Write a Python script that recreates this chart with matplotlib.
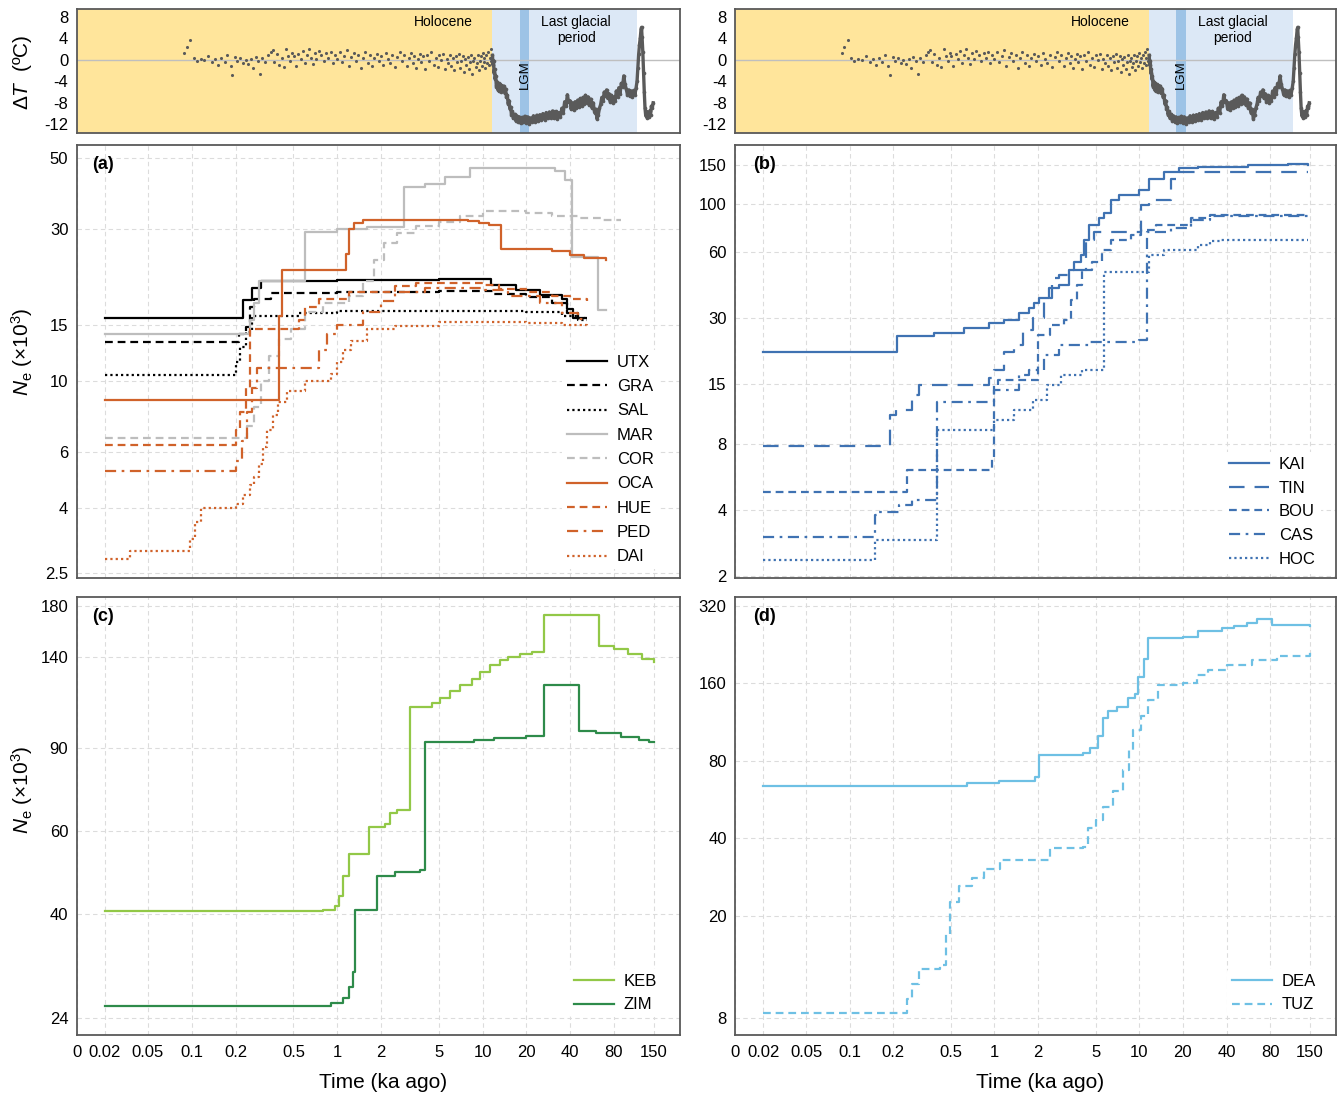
import numpy as np
import matplotlib
matplotlib.use('Agg')
import matplotlib.pyplot as plt
from matplotlib.ticker import FixedLocator, FixedFormatter, NullLocator

plt.rcParams['font.family'] = ['Liberation Sans', 'DejaVu Sans']
plt.rcParams['mathtext.fontset'] = 'custom'
plt.rcParams['mathtext.rm'] = 'Liberation Sans'
plt.rcParams['mathtext.it'] = 'Liberation Sans:italic'

# ---------------- data ----------------
X_TICKS = [0, 0.02, 0.05, 0.1, 0.2, 0.5, 1, 2, 5, 10, 20, 40, 80, 150]
X_LABELS = ['0', '0.02', '0.05', '0.1', '0.2', '0.5', '1', '2', '5', '10', '20', '40', '80', '150']

# temperature record (ka, delta T)
HOL = [(0.088, 1.2), (0.092, 2.3), (0.098, 3.6), (0.103, 0.3), (0.108, -0.2), (0.115, 0.1), (0.122, -0.1),
       (0.13, 0.6), (0.138, -0.4), (0.145, 0.2), (0.152, -1.0), (0.16, 0.3), (0.168, -0.5), (0.176, 0.9),
       (0.185, -1.2), (0.19, -2.8), (0.198, 0.5), (0.205, -0.3), (0.215, 0.4), (0.225, -0.6), (0.235, 0.0),
       (0.245, -0.8), (0.255, 0.2), (0.265, -1.6), (0.275, 0.5), (0.285, -0.2), (0.295, -2.6), (0.305, 0.3),
       (0.32, -0.4), (0.335, 0.8), (0.35, 1.5), (0.36, 1.8), (0.37, -0.5), (0.385, 1.1), (0.4, -0.9),
       (0.415, 0.4), (0.43, -1.4), (0.445, 1.9), (0.46, 0.6), (0.475, -0.2), (0.49, 1.2), (0.505, 0.7),
       (0.52, -1.1), (0.54, 1.0), (0.56, 0.2), (0.58, 1.6), (0.6, -0.6), (0.62, 0.9), (0.64, 1.9), (0.66, 0.4),
       (0.68, -0.8), (0.7, 1.3), (0.72, 0.1), (0.75, 1.7), (0.78, 0.8), (0.81, -0.3), (0.84, 1.2), (0.87, 0.3),
       (0.9, 1.5), (0.93, -0.7), (0.96, 0.9), (1.0, 0.1), (1.04, 1.4), (1.08, -0.5), (1.12, 0.7), (1.16, 1.8),
       (1.2, -1.1), (1.25, 0.5), (1.3, 1.2), (1.35, -0.2), (1.4, 0.9), (1.45, -1.6), (1.5, 0.3), (1.56, 1.5),
       (1.62, -0.6), (1.68, 0.8), (1.74, -1.2), (1.8, 0.4), (1.87, 1.1), (1.94, -0.3), (2.0, 0.6), (2.08, -1.0),
       (2.16, 1.3), (2.24, 0.2), (2.32, -0.7), (2.4, 0.9), (2.5, -1.4), (2.6, 0.5), (2.7, 1.5), (2.8, -0.2),
       (2.9, 0.8), (3.0, -1.1), (3.1, 0.3), (3.2, 1.2), (3.3, -0.6), (3.4, 0.7), (3.5, -1.5), (3.6, 0.1),
       (3.7, 1.0), (3.8, -0.4), (3.9, 0.6), (4.0, -1.8), (4.15, 0.9), (4.3, -0.3), (4.45, 1.4), (4.6, -0.9),
       (4.75, 0.4), (4.9, -1.3), (5.05, 0.8), (5.2, -0.1), (5.35, 1.1), (5.5, -1.7), (5.65, 0.2), (5.8, -0.6),
       (5.95, 0.9), (6.1, -1.2), (6.25, 0.3), (6.4, -2.0), (6.55, 0.6), (6.7, -0.4), (6.85, 1.0), (7.0, -1.5),
       (7.15, -0.2), (7.3, 0.7), (7.45, -2.3), (7.6, 0.1), (7.75, -0.9), (7.9, 0.5), (8.05, -1.8), (8.2, -0.5),
       (8.35, 0.8), (8.5, -2.6), (8.65, -0.3), (8.8, 0.4), (8.95, -1.4), (9.1, -0.7), (9.25, 0.9), (9.4, -1.9),
       (9.55, -0.2), (9.7, 0.6), (9.85, -1.1), (10.0, 1.2), (10.15, -0.4), (10.3, 0.3), (10.45, -1.6),
       (10.6, 0.8), (10.75, -0.6), (10.9, 1.5), (11.05, -0.9), (11.2, 0.4), (11.35, 2.0), (11.5, -0.3), (11.65, 0.9)]

GLA = [(11.7, 0.8), (11.8, -1.0), (11.9, -0.2), (12.0, -2.5), (12.1, -1.8), (12.2, -3.6), (12.3, -3.0),
       (12.45, -5.0), (12.6, -4.1), (12.75, -5.6), (12.9, -4.4), (13.05, -5.9), (13.2, -4.6), (13.4, -6.0),
       (13.6, -4.8), (13.8, -5.5), (14.0, -4.9), (14.2, -6.2), (14.4, -5.4), (14.6, -7.0), (14.8, -6.6),
       (15.0, -8.2), (15.2, -7.6), (15.4, -9.1), (15.6, -8.8), (15.8, -10.2), (16.0, -9.6), (16.3, -10.9),
       (16.6, -10.1), (16.9, -11.3), (17.2, -10.4), (17.5, -11.5), (17.9, -10.6), (18.3, -11.8), (18.7, -10.7),
       (19.1, -11.6), (19.5, -10.5), (19.9, -11.7), (20.4, -10.6), (20.9, -11.9), (21.4, -10.8), (21.9, -11.6),
       (22.4, -10.4), (23.0, -11.5), (23.6, -10.3), (24.2, -11.4), (24.8, -10.2), (25.4, -11.2), (26.0, -10.0),
       (26.7, -11.1), (27.4, -9.8), (28.1, -10.9), (28.8, -9.7), (29.5, -10.8), (30.3, -9.5), (31.1, -10.9),
       (31.9, -9.6), (32.7, -11.0), (33.5, -9.8), (34.3, -10.6), (35.1, -9.0), (35.9, -9.8), (36.7, -7.8),
       (37.5, -8.6), (38.3, -6.5), (39.1, -7.9), (39.9, -7.6), (40.7, -9.2), (41.5, -8.0), (42.4, -9.3),
       (43.3, -7.8), (44.2, -9.0), (45.1, -7.5), (46.0, -8.8), (47.0, -7.2), (48.0, -8.6), (49.0, -7.0),
       (50.0, -8.2), (51.0, -6.6), (52.1, -8.0), (53.2, -6.9), (54.3, -8.4), (55.4, -7.3), (56.5, -8.9),
       (57.7, -8.0), (58.9, -9.8), (60.1, -9.2), (61.3, -11.0), (62.5, -10.2), (63.7, -9.0), (64.9, -8.3),
       (66.1, -7.0), (67.4, -7.6), (68.7, -6.0), (70.0, -6.8), (71.3, -5.6), (72.7, -7.2), (74.1, -6.3),
       (75.5, -7.8), (77.0, -6.6), (78.5, -8.0), (80.0, -6.9), (81.6, -7.6), (83.2, -5.8), (84.8, -6.9),
       (86.5, -5.2), (88.2, -6.3), (90.0, -4.4), (91.8, -5.0), (93.6, -3.0), (95.4, -4.6), (97.3, -5.4),
       (99.2, -6.5), (101.2, -5.6), (103.2, -6.8), (105.2, -5.8), (107.3, -6.9), (109.4, -5.7), (111.6, -6.5),
       (113.8, -5.2), (115.5, -4.0), (117.0, -1.5), (118.5, 1.0), (120.0, 2.8), (121.5, 4.0), (123.0, 5.6),
       (124.0, 6.0), (125.0, 4.2), (126.5, 1.5), (128.0, -2.5), (129.5, -6.0), (131.0, -9.0), (132.5, -10.4),
       (134.0, -9.6), (135.5, -10.8), (137.0, -9.8), (139.0, -10.6), (141.0, -9.5), (143.0, -10.2),
       (145.0, -8.6), (147.0, -9.0), (149.0, -8.0)]

HOLOCENE_END = 11.7
GLACIAL_END = 115
LGM = (18, 21)

# panel (a)  (time ka, Ne x1000), step curves
UTX = [(0.02, 15.8), (0.225, 17.9), (0.26, 19.6), (0.3, 20.5), (1.0, 20.7), (5, 20.8), (11.5, 20.0),
       (17, 19.3), (25, 18.6), (35, 18.0), (38, 16.8), (42, 15.8), (50, 15.8)]
GRA = [(0.02, 13.2), (0.21, 14.0), (0.235, 14.8), (0.25, 17.0), (0.27, 18.0), (0.35, 18.9), (1.0, 19.0),
       (5, 19.1), (12, 18.7), (20, 18.3), (30, 17.5), (38, 16.3), (45, 15.8), (52, 15.8)]
SAL = [(0.02, 10.4), (0.2, 11.5), (0.215, 12.8), (0.235, 14.2), (0.26, 16.0), (0.55, 16.3), (1.0, 16.6),
       (10, 16.6), (20, 16.4), (35, 16.0), (45, 15.5), (52, 15.5)]
MAR = [(0.02, 14.0), (0.25, 15.5), (0.27, 17.5), (0.29, 20.6), (0.6, 29.3), (1.0, 30.0), (1.6, 30.3),
       (2.9, 40.4), (4, 41.5), (5.5, 43.5), (8.2, 46.5), (31.5, 45.5), (37, 42.6), (41, 24.4), (62, 16.7), (71, 16.7)]
COR = [(0.02, 6.6), (0.24, 7.2), (0.27, 8.3), (0.3, 10.0), (0.34, 12.0), (0.4, 13.5), (0.48, 14.5),
       (0.6, 16.5), (0.8, 17.5), (1.2, 18.5), (1.5, 20.5), (1.8, 24), (2.1, 27), (2.6, 29), (3.5, 30.5),
       (5, 31.5), (7, 33), (10, 34), (14, 34.2), (20, 33.5), (30, 33.0), (45, 32.5), (65, 32.0), (90, 32.0)]
OCA = [(0.02, 8.7), (0.40, 16), (0.415, 22.3), (1.15, 25), (1.2, 30), (1.3, 31.3), (1.5, 32), (8, 31.8),
       (9.5, 31.2), (11, 30.8), (13.3, 26.0), (30, 25.5), (40, 24.8), (50, 24.2), (71, 24.0)]
HUE = [(0.02, 6.3), (0.2, 7.0), (0.215, 8.0), (0.235, 9.5), (0.25, 14.5), (0.55, 15.5), (0.6, 17.0),
       (0.75, 18.0), (1.2, 19.0), (2.5, 19.8), (3.5, 20.2), (10, 20.0), (13, 19.4), (20, 19.0), (30, 18.5),
       (40, 18.0), (52, 17.8)]
PED = [(0.02, 5.2), (0.2, 5.6), (0.22, 6.5), (0.24, 8.0), (0.26, 9.5), (0.28, 11.0), (0.75, 12.5),
       (0.85, 14.0), (1.0, 15.0), (1.5, 16.5), (2, 17.8), (2.5, 19), (4, 19.5), (10, 19.3), (15, 18.5),
       (25, 17.5), (35, 16.3), (45, 15.6), (52, 15.6)]
DAI = [(0.02, 2.77), (0.034, 2.92), (0.098, 3.2), (0.105, 3.6), (0.115, 4.0), (0.2, 4.1), (0.225, 4.4),
       (0.25, 4.7), (0.27, 5.0), (0.29, 5.5), (0.31, 6.2), (0.33, 7.0), (0.36, 7.8), (0.39, 8.6), (0.45, 9.3),
       (0.6, 10.0), (0.9, 10.5), (1.0, 11.5), (1.1, 12.5), (1.25, 13.3), (1.6, 14.5), (2.5, 14.9), (5, 15.3),
       (10, 15.3), (20, 15.2), (35, 15.0), (52, 14.8)]

# panel (b)
KAI = [(0.02, 21.0), (0.212, 24.8), (0.385, 25.6), (0.62, 27.0), (0.92, 28.5), (1.17, 29.4), (1.48, 31.6),
       (1.74, 33.3), (1.88, 35.1), (2.03, 37.0), (2.38, 41.1), (2.79, 42.4), (3.27, 49.7), (3.54, 54.0),
       (3.96, 58.1), (4.15, 68.1), (4.49, 79.7), (5.26, 86.0), (5.69, 90.6), (6.4, 103.7), (7.2, 109.5),
       (9.9, 115.2), (11.6, 130), (14.7, 139), (18.7, 145), (25.6, 146.5), (56.6, 150), (106.6, 151), (146, 150)]
TIN = [(0.02, 7.8), (0.19, 10.8), (0.21, 11.4), (0.27, 13.4), (0.3, 14.8), (0.92, 16.0), (1.0, 17.4),
       (1.17, 21.0), (1.37, 22.6), (1.58, 26.4), (1.84, 30), (2.2, 37), (2.5, 45.7), (2.8, 47.1), (3.5, 49.7),
       (4.3, 68.1), (4.9, 74.1), (10.3, 98.8), (11.6, 103.7), (16.6, 130), (18.7, 139), (146, 139)]
BOU = [(0.02, 4.8), (0.25, 6.07), (0.96, 6.9), (1.0, 14.8), (1.05, 15.6), (2.0, 25.1), (2.4, 27.9),
       (3.0, 29.4), (3.4, 36.3), (3.7, 42.4), (4.0, 49.7), (4.7, 54), (5.5, 61.3), (6.4, 68.1), (8.8, 71.8),
       (10.3, 75.7), (13, 79.7), (22.7, 85.9), (31, 88.9), (146, 88.9)]
CAS = [(0.02, 3.0), (0.149, 3.78), (0.16, 3.9), (0.22, 4.2), (0.27, 4.43), (0.40, 12.4), (1.0, 14.1),
       (1.48, 16.5), (1.74, 17.4), (2.2, 20.3), (2.79, 22.6), (4.49, 23.3), (9.9, 23.8), (11.25, 74.1),
       (16.6, 77.3), (22.7, 84), (31, 87.7), (146, 87.7)]
HOC = [(0.02, 2.35), (0.149, 2.9), (0.40, 9.24), (1.0, 10.3), (1.37, 11.4), (1.84, 12.7), (2.3, 14.8),
       (2.9, 16.5), (4.0, 17.4), (5.69, 48.6), (11.6, 58.2), (14.7, 61.3), (25.6, 64.6), (31, 67.4), (36, 68.1),
       (146, 68.1)]

# panel (c)
KEB = [(0.02, 40.5), (0.8, 40.8), (0.97, 41.5), (1.03, 43.5), (1.1, 48), (1.2, 53.5), (1.66, 61.0),
       (2.15, 62), (2.3, 65.5), (2.6, 66.5), (3.15, 110), (4.5, 112), (5.1, 115), (6, 119), (7, 122),
       (8.5, 126), (9.6, 130), (11.3, 135), (13.1, 138), (15, 140), (18.1, 142), (22, 144), (26.3, 172),
       (63, 148), (80, 146), (100, 142), (125, 139), (150, 137)]
ZIM = [(0.02, 25.5), (0.9, 25.8), (1.1, 26.5), (1.2, 28), (1.28, 30), (1.32, 40.8), (1.88, 48), (2.5, 49),
       (3.7, 49.5), (4.05, 92.6), (8.8, 93.5), (12, 94.5), (20, 95.5), (26.3, 122), (46, 97.5), (60, 96.5),
       (90, 95), (120, 93.5), (140, 92.5), (150, 92.5)]

# panel (d)
DEA = [(0.02, 64), (0.65, 65.5), (1.08, 67), (1.89, 69), (2.04, 84), (4.1, 86), (4.6, 90), (5.2, 100),
       (5.6, 117), (6.1, 125), (7, 130), (8.4, 140), (9.3, 145), (9.85, 170), (10.7, 200), (11.5, 240),
       (20, 243), (25.5, 255), (37, 262), (45, 268), (55, 275), (64.5, 285), (75.5, 285), (82, 270), (150, 268)]
TUZ = [(0.02, 8.4), (0.25, 9.5), (0.27, 10.8), (0.3, 12.4), (0.42, 12.9), (0.46, 17), (0.49, 22.7),
       (0.57, 26), (0.7, 28), (0.85, 30.5), (1.1, 32.8), (2.0, 33), (2.4, 36.7), (4.1, 37), (4.45, 44),
       (5.0, 47), (5.6, 53), (6.6, 61), (7.7, 74), (8.5, 88), (9.1, 105), (10.3, 120), (11.5, 138),
       (13.4, 158), (20, 160), (25, 172), (30, 180), (40, 188), (60, 198), (89, 205), (150, 216)]

# ---------------- x scale (0 and 0.02 compressed, log above 0.05) ----------------
L05 = np.log10(0.05)
D1 = 43 / 145.4
D0 = 28.3 / 145.4
X02 = L05 - D1
X0 = X02 - D0


def fwd(t):
    t = np.asarray(t, dtype=float)
    out = np.zeros_like(t)
    big = t >= 0.05
    mid = (t >= 0.02) & ~big
    small = ~(big | mid)
    with np.errstate(all='ignore'):
        out[big] = np.log10(t[big])
        out[mid] = X02 + D1 * (np.log10(t[mid]) - np.log10(0.02)) / np.log10(2.5)
        out[small] = X0 + D0 * t[small] / 0.02
    return out


def inv(x):
    x = np.asarray(x, dtype=float)
    out = np.zeros_like(x)
    big = x >= L05
    mid = (x >= X02) & ~big
    small = ~(big | mid)
    with np.errstate(all='ignore'):
        out[big] = 10 ** x[big]
        out[mid] = 10 ** (np.log10(0.02) + (x[mid] - X02) / D1 * np.log10(2.5))
        out[small] = 0.02 * (x[small] - X0) / D0
    return out


W, H = 1338, 1095
fig = plt.figure(figsize=(W / 100, H / 100), dpi=100)


def rect(l, t, r, b):
    return [l / W, 1 - b / H, (r - l) / W, (b - t) / H]


SPINE = '#595959'
GRID = '#dcdcdc'
FS = 12


def style_x(ax, labels):
    ax.set_xscale('function', functions=(fwd, inv))
    ax.set_xlim(0, 228)
    ax.xaxis.set_major_locator(FixedLocator(X_TICKS))
    ax.xaxis.set_minor_locator(NullLocator())
    ax.xaxis.set_major_formatter(FixedFormatter(X_LABELS if labels else [''] * len(X_TICKS)))
    ax.tick_params(axis='x', length=0, pad=7, labelsize=FS)
    for s in ax.spines.values():
        s.set_color(SPINE)
        s.set_linewidth(1.3)


def style_log_y(ax, lo, hi, ticks):
    ax.set_yscale('log')
    ax.set_ylim(lo, hi)
    ax.yaxis.set_major_locator(FixedLocator(ticks))
    ax.yaxis.set_minor_locator(NullLocator())
    ax.yaxis.set_major_formatter(FixedFormatter([('%g' % v) for v in ticks]))
    ax.tick_params(axis='y', length=0, pad=6, labelsize=FS)
    ax.grid(True, which='major', color=GRID, ls=(0, (4, 3)), lw=0.8)
    ax.set_axisbelow(True)


def temp_panel(ax):
    style_x(ax, False)
    ax.set_ylim(-13.6, 9.4)
    ax.set_yticks([-12, -8, -4, 0, 4, 8])
    ax.set_yticklabels(['-12', '-8', '-4', '0', '4', '8'])
    ax.tick_params(axis='y', length=0, pad=6, labelsize=FS)
    ax.axvspan(0, HOLOCENE_END, color='#FFE59B', lw=0, zorder=0)
    ax.axvspan(HOLOCENE_END, GLACIAL_END, color='#DCE8F6', lw=0, zorder=0)
    ax.axvspan(LGM[0], LGM[1], color='#9DC3E6', lw=0, zorder=0)
    ax.axhline(0, color='#BFBFBF', lw=1.0, zorder=1)
    ht, hv = zip(*HOL)
    ax.scatter(ht, hv, s=5, color='#5a5a5a', lw=0, zorder=3)
    gt, gv = zip(*GLA)
    ax.plot(gt, gv, color='#5a5a5a', lw=2.4, zorder=3)
    ax.scatter(gt, gv, s=7, color='#5a5a5a', lw=0, zorder=3)
    ax.text(5.35, 7.0, 'Holocene', ha='center', va='center', fontsize=10)
    ax.text(44, 5.5, 'Last glacial\nperiod', ha='center', va='center', fontsize=10, linespacing=1.1)
    ax.text(19.5, -2.8, 'LGM', ha='center', va='center', rotation=90, fontsize=9.5)


ax_t1 = fig.add_axes(rect(76.7, 9, 680, 133))
ax_t2 = fig.add_axes(rect(735, 9, 1336, 133))
ax_a = fig.add_axes(rect(76.7, 145, 680, 578))
ax_b = fig.add_axes(rect(735, 145, 1336, 578))
ax_c = fig.add_axes(rect(76.7, 597, 680, 1035))
ax_d = fig.add_axes(rect(735, 597, 1336, 1035))

temp_panel(ax_t1)
temp_panel(ax_t2)


def draw(ax, series, names, styles):
    for s, n, st in zip(series, names, styles):
        t, v = zip(*s)
        ax.plot(t, v, drawstyle='steps-post', label=n, **st)


BLK = '#000000'
GRY = '#BDBDBD'
ORG = '#D0622A'
BLU = '#3F72B2'
LGN = '#92C847'
DGN = '#2E8B4A'
LBL = '#6EC0E4'

DASH = (0, (3.5, 2.2))
DOT = (0, (1, 1.4))
DASHDOT = (0, (5, 2.5, 1.2, 2.5))
LONG = (0, (7, 4.5))
LW = 1.6

# (a)
style_x(ax_a, False)
ax_a.grid(True, axis='x', color=GRID, ls=(0, (4, 3)), lw=0.8)
style_log_y(ax_a, 2.41, 54.9, [2.5, 4, 6, 10, 15, 30, 50])
draw(ax_a, [UTX, GRA, SAL, MAR, COR, OCA, HUE, PED, DAI],
     ['UTX', 'GRA', 'SAL', 'MAR', 'COR', 'OCA', 'HUE', 'PED', 'DAI'],
     [dict(color=BLK, lw=LW), dict(color=BLK, lw=LW, ls=DASH), dict(color=BLK, lw=LW, ls=DOT),
      dict(color=GRY, lw=LW), dict(color=GRY, lw=LW, ls=DASH), dict(color=ORG, lw=LW),
      dict(color=ORG, lw=LW, ls=DASH), dict(color=ORG, lw=LW, ls=DASHDOT), dict(color=ORG, lw=LW, ls=DOT)])

# (b)
style_x(ax_b, False)
ax_b.grid(True, axis='x', color=GRID, ls=(0, (4, 3)), lw=0.8)
style_log_y(ax_b, 1.95, 185, [2, 4, 8, 15, 30, 60, 100, 150])
draw(ax_b, [KAI, TIN, BOU, CAS, HOC], ['KAI', 'TIN', 'BOU', 'CAS', 'HOC'],
     [dict(color=BLU, lw=LW), dict(color=BLU, lw=LW, ls=LONG), dict(color=BLU, lw=LW, ls=DASH),
      dict(color=BLU, lw=LW, ls=DASHDOT), dict(color=BLU, lw=LW, ls=DOT)])

# (c)
style_x(ax_c, True)
ax_c.grid(True, axis='x', color=GRID, ls=(0, (4, 3)), lw=0.8)
style_log_y(ax_c, 22.1, 188, [24, 40, 60, 90, 140, 180])
draw(ax_c, [KEB, ZIM], ['KEB', 'ZIM'], [dict(color=LGN, lw=LW), dict(color=DGN, lw=LW)])

# (d)
style_x(ax_d, True)
ax_d.grid(True, axis='x', color=GRID, ls=(0, (4, 3)), lw=0.8)
style_log_y(ax_d, 6.87, 347, [8, 20, 40, 80, 160, 320])
draw(ax_d, [DEA, TUZ], ['DEA', 'TUZ'], [dict(color=LBL, lw=LW), dict(color=LBL, lw=LW, ls=DASH)])

leg_kw = dict(loc='lower right', frameon=True, facecolor='white', edgecolor='none', framealpha=1,
              fontsize=FS, handlelength=2.4, borderaxespad=0, borderpad=0.3, handletextpad=0.6)
ax_a.legend(bbox_to_anchor=(0.965, 0.02), labelspacing=0.56, **leg_kw)
ax_b.legend(bbox_to_anchor=(0.975, 0.015), labelspacing=0.52, **leg_kw)
ax_c.legend(bbox_to_anchor=(0.97, 0.04), labelspacing=0.52, **leg_kw)
ax_d.legend(bbox_to_anchor=(0.975, 0.04), labelspacing=0.52, **leg_kw)

for ax, lab, x in [(ax_a, '(a)', 0.025), (ax_b, '(b)', 0.03), (ax_c, '(c)', 0.025), (ax_d, '(d)', 0.03)]:
    ax.text(x, 0.955, lab, transform=ax.transAxes, ha='left', va='center', fontsize=13, fontweight='bold')

# axis titles
fig.text(383 / W, 1 - 1082 / H, 'Time (ka ago)', ha='center', va='center', fontsize=15)
fig.text(1040 / W, 1 - 1082 / H, 'Time (ka ago)', ha='center', va='center', fontsize=15)
fig.text(22 / W, 1 - 72 / H, r'$\Delta\mathit{T}$  (ºC)', ha='center', va='center', rotation=90, fontsize=15)
fig.text(22 / W, 1 - 352 / H, r'$\mathit{N}_\mathrm{e}$ (×10$^\mathrm{3}$)', ha='center', va='center',
         rotation=90, fontsize=15)
fig.text(22 / W, 1 - 790 / H, r'$\mathit{N}_\mathrm{e}$ (×10$^\mathrm{3}$)', ha='center', va='center',
         rotation=90, fontsize=15)

fig.savefig('out.png', dpi=100)
